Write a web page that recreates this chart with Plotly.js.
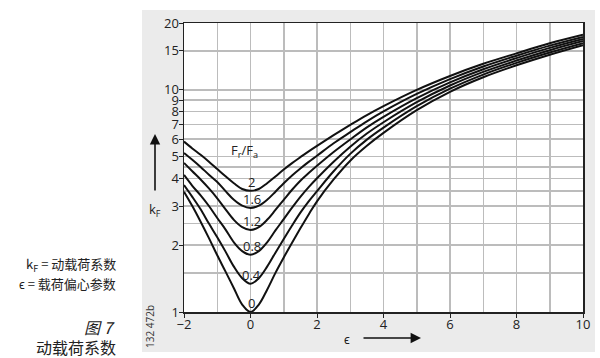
<!DOCTYPE html>
<html>
<head>
<meta charset="utf-8">
<script src="https://cdn.plot.ly/plotly-3.0.1.min.js"></script>
<style>
  html, body { margin: 0; padding: 0; background: #ffffff; }
  #panel { position: absolute; left: 142px; top: 10px; width: 453px; height: 342px; background: #ebebeb; }
  #chart { position: absolute; left: 0; top: 0; width: 600px; height: 358px; }
</style>
</head>
<body>
<div id="panel"></div>
<div id="chart"></div>
<script>
// ε values (x)
const eps = [-2, -1.75, -1.5, -1.25, -1, -0.75, -0.5, -0.25, 0, 0.25, 0.5, 0.75, 1, 1.25, 1.5, 1.75, 2, 2.5, 3, 3.5, 4, 5, 6, 7, 8, 9, 10];

// curve labels Fr/Fa
const ratioLabels = ['0', '0.4', '0.8', '1.2', '1.6', '2'];

// kF values per curve
const kF_0   = [3.48, 3.0, 2.55, 2.15, 1.8, 1.52, 1.28, 1.08, 1.0, 1.08, 1.26, 1.5, 1.76, 2.05, 2.38, 2.75, 3.15, 3.95, 4.8, 5.6, 6.4, 8.1, 9.8, 11.4, 12.9, 14.4, 15.9];
const kF_0_4 = [3.73, 3.3, 2.9, 2.5, 2.17, 1.87, 1.6, 1.42, 1.34, 1.42, 1.6, 1.85, 2.13, 2.45, 2.8, 3.15, 3.5, 4.3, 5.15, 5.97, 6.76, 8.44, 10.12, 11.72, 13.23, 14.73, 16.23];
const kF_0_8 = [4.14, 3.7, 3.35, 3.0, 2.65, 2.35, 2.06, 1.88, 1.81, 1.88, 2.06, 2.33, 2.62, 2.95, 3.3, 3.65, 4.0, 4.75, 5.55, 6.36, 7.15, 8.8, 10.46, 12.05, 13.55, 15.09, 16.59];
const kF_1_2 = [4.69, 4.3, 3.95, 3.6, 3.25, 2.9, 2.6, 2.41, 2.34, 2.41, 2.6, 2.88, 3.2, 3.55, 3.9, 4.22, 4.55, 5.25, 5.98, 6.78, 7.56, 9.18, 10.81, 12.39, 13.9, 15.45, 16.95];
const kF_1_6 = [5.2, 4.85, 4.5, 4.15, 3.85, 3.5, 3.2, 3.01, 2.94, 3.01, 3.2, 3.48, 3.8, 4.12, 4.43, 4.74, 5.05, 5.75, 6.45, 7.22, 8.0, 9.59, 11.18, 12.74, 14.25, 15.82, 17.32];
const kF_2   = [5.85, 5.45, 5.1, 4.75, 4.4, 4.08, 3.8, 3.58, 3.51, 3.58, 3.8, 4.07, 4.38, 4.68, 4.98, 5.29, 5.6, 6.25, 6.95, 7.7, 8.45, 10.0, 11.55, 13.1, 14.6, 16.2, 17.7];

// axis ticks (labelled) and extra grid lines
const xTickVals = [-2, 0, 2, 4, 6, 8, 10];
const xTickText = ['−2', '0', '2', '4', '6', '8', '10'];
const xGridExtra = [-1, 1, 3, 5, 7, 9];
const yTickVals = [1, 2, 3, 4, 5, 6, 7, 8, 9, 10, 15, 20];
const yTickText = ['1', '2', '3', '4', '5', '6', '7', '8', '9', '10', '15', '20'];
const yGridExtra = [1.5, 2.5, 3.5, 4.5];

const series = [kF_0, kF_0_4, kF_0_8, kF_1_2, kF_1_6, kF_2];

const FONT = 'Open Sans, Noto Sans CJK SC, sans-serif';
const CJK = 'Noto Sans CJK SC, Open Sans, sans-serif';
const GRID = '#bcbcbc';

const traces = series.map((ys, i) => ({
  x: eps, y: ys, type: 'scatter', mode: 'lines',
  line: { color: '#111111', width: 2, shape: 'spline', smoothing: 1 },
  name: ratioLabels[i], hoverinfo: 'skip'
}));

const i0 = eps.indexOf(0);
const annotations = series.map((ys, i) => ({
  x: 0.03, y: Math.log10(ys[i0]), xref: 'x', yref: 'y',
  text: ratioLabels[i], showarrow: false, xanchor: 'center', yanchor: 'bottom',
  yshift: -2, font: { family: FONT, size: 13, color: '#222' }
}));

const px = (p) => (p - 184) / 399;
const py = (p) => (312 - p) / 289;
const txt = (x, y, text, font, extra) => Object.assign({
  xref: 'paper', yref: 'paper', x: px(x), y: py(y), text: text, showarrow: false,
  xanchor: 'center', yanchor: 'middle', font: font
}, extra || {});

annotations.push(
  { xref: 'x', yref: 'y', x: -0.17, y: Math.log10(5.3), text: 'F<sub>r</sub>/F<sub>a</sub>', showarrow: false,
    xanchor: 'center', yanchor: 'middle', font: { family: FONT, size: 13, color: '#222' } },
  txt(155, 210, 'k<sub>F</sub>', { family: FONT, size: 13, color: '#222' }),
  { xref: 'paper', yref: 'paper', x: px(155), y: py(134), text: '', showarrow: true, ax: 0, ay: 58,
    arrowhead: 2, arrowsize: 1.3, arrowwidth: 1.6, arrowcolor: '#111' },
  txt(347, 339, 'ϵ', { family: FONT, size: 13, color: '#222' }),
  { xref: 'paper', yref: 'paper', x: px(421), y: py(338), text: '', showarrow: true, ax: -59, ay: 0,
    arrowhead: 2, arrowsize: 1.3, arrowwidth: 1.6, arrowcolor: '#111' },
  txt(118, 264, 'k<sub>F</sub> = 动载荷系数', { family: CJK, size: 13, color: '#222' }, { xanchor: 'right' }),
  txt(118, 283, 'ϵ = 载荷偏心参数', { family: CJK, size: 13, color: '#222' }, { xanchor: 'right' }),
  txt(118, 327, '<i>图 7</i>', { family: CJK, size: 16, color: '#222' }, { xanchor: 'right' }),
  txt(118, 347, '动载荷系数', { family: CJK, size: 16, color: '#222' }, { xanchor: 'right' }),
  txt(150, 327, '132 472b', { family: FONT, size: 10, color: '#333' }, { textangle: -90 })
);

const axisCommon = {
  tickmode: 'array', showgrid: true, gridcolor: GRID, gridwidth: 1.5,
  showline: true, linecolor: '#222', linewidth: 1.5, mirror: true,
  ticks: 'outside', ticklen: 4, tickcolor: '#222', zeroline: false,
  tickfont: { family: FONT, size: 13, color: '#222' }
};

const layout = {
  width: 600, height: 358,
  margin: { l: 184, r: 17, t: 23, b: 46, pad: 0 },
  paper_bgcolor: 'rgba(0,0,0,0)', plot_bgcolor: '#ffffff',
  showlegend: false,
  font: { family: FONT, size: 13, color: '#222' },
  xaxis: Object.assign({}, axisCommon, {
    range: [-2, 10], tickvals: xTickVals, ticktext: xTickText, ticklabelstandoff: -4,
    minor: { tickmode: 'array', tickvals: xGridExtra, showgrid: true, gridcolor: GRID, gridwidth: 1.5, ticks: '' }
  }),
  yaxis: Object.assign({}, axisCommon, {
    type: 'log', range: [0, Math.log10(20)], tickvals: yTickVals, ticktext: yTickText, ticklabelstandoff: -3,
    minor: { tickmode: 'array', tickvals: yGridExtra, showgrid: true, gridcolor: GRID, gridwidth: 1.5, ticks: '' }
  }),
  annotations: annotations
};

Plotly.newPlot('chart', traces, layout, { staticPlot: true, displayModeBar: false });
</script>
</body>
</html>
